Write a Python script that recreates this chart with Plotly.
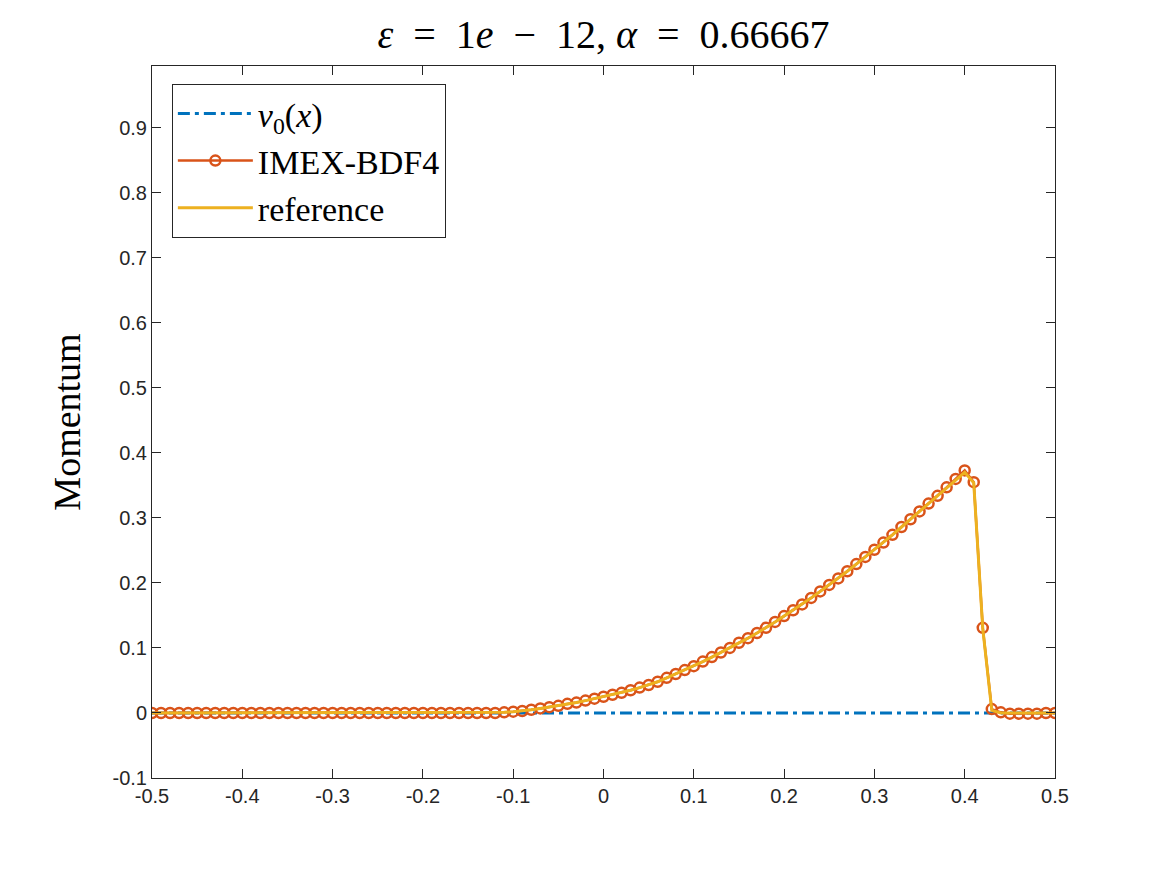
import numpy as np
import plotly.graph_objects as go

# grid
x_vals = [round(-0.5 + 0.01 * i, 2) for i in range(101)]

# IMEX-BDF4 momentum, x = -0.50 ... 0.50 step 0.01
imex_y = [0.0] * 38 + [
    0.000, 0.001, 0.002, 0.003, 0.005, 0.007, 0.009, 0.011, 0.014, 0.016,  # -0.12 .. -0.03
    0.019, 0.022, 0.025, 0.028, 0.031, 0.035, 0.039, 0.043, 0.048, 0.054,  # -0.02 .. 0.07
    0.060, 0.066, 0.072, 0.079, 0.086, 0.093, 0.100, 0.108, 0.115, 0.123,  # 0.08 .. 0.17
    0.131, 0.140, 0.149, 0.158, 0.167, 0.177, 0.187, 0.197, 0.207, 0.218,  # 0.18 .. 0.27
    0.229, 0.240, 0.251, 0.262, 0.274, 0.286, 0.298, 0.310, 0.322, 0.334,  # 0.28 .. 0.37
    0.347, 0.360, 0.373, 0.355, 0.131, 0.006, 0.001, -0.001, -0.001, -0.001,  # 0.38 .. 0.47
    -0.001, 0.000, 0.000,  # 0.48 .. 0.50
]

# reference solution
ref_y = [0.0] * 38 + [
    0.000, 0.001, 0.002, 0.003, 0.005, 0.007, 0.009, 0.011, 0.014, 0.016,
    0.019, 0.022, 0.025, 0.028, 0.031, 0.035, 0.039, 0.043, 0.048, 0.054,
    0.060, 0.066, 0.072, 0.079, 0.086, 0.093, 0.100, 0.108, 0.115, 0.123,
    0.131, 0.140, 0.149, 0.158, 0.167, 0.177, 0.187, 0.197, 0.207, 0.218,
    0.229, 0.240, 0.251, 0.262, 0.274, 0.286, 0.298, 0.310, 0.322, 0.334,
    0.347, 0.359, 0.370, 0.354, 0.130, 0.004, 0.000, 0.000, 0.000, 0.000,
    0.000, 0.000, 0.000,
]

# initial momentum v0(x)
v0_y = [0.0] * 101

x_ticks = [-0.5, -0.4, -0.3, -0.2, -0.1, 0, 0.1, 0.2, 0.3, 0.4, 0.5]
x_tick_text = ["-0.5", "-0.4", "-0.3", "-0.2", "-0.1", "0", "0.1", "0.2", "0.3", "0.4", "0.5"]
y_ticks = [-0.1, 0, 0.1, 0.2, 0.3, 0.4, 0.5, 0.6, 0.7, 0.8, 0.9]
y_tick_text = ["-0.1", "0", "0.1", "0.2", "0.3", "0.4", "0.5", "0.6", "0.7", "0.8", "0.9"]

BLUE = "#0072BD"
ORANGE = "#D95319"
YELLOW = "#EDB120"
AX = "#262626"
SERIF = "Liberation Serif, DejaVu Serif, serif"
SANS = "Liberation Sans, Arial, Helvetica, sans-serif"
SP = "\u2002"

fig = go.Figure()
fig.add_trace(go.Scatter(
    x=x_vals, y=v0_y, mode="lines", name="<i>v</i><sub>0</sub>(<i>x</i>)",
    line=dict(color=BLUE, width=3, dash="12px,5px,4px,5px"),
))
fig.add_trace(go.Scatter(
    x=x_vals, y=imex_y, mode="lines+markers", name="IMEX-BDF4",
    line=dict(color=ORANGE, width=2.5),
    marker=dict(symbol="circle-open", size=10, color=ORANGE, line=dict(color=ORANGE, width=2.5)),
))
fig.add_trace(go.Scatter(
    x=x_vals, y=ref_y, mode="lines", name="reference",
    line=dict(color=YELLOW, width=3),
))

fig.update_layout(
    width=1167, height=875,
    margin=dict(l=152, r=112, t=66, b=97),
    paper_bgcolor="white", plot_bgcolor="white",
    title=dict(
        text=f"<i>ε</i>{SP}={SP}1<i>e</i>{SP}−{SP}12, <i>α</i>{SP}={SP}0.66667",
        x=(152 + 1055) / 2 / 1167, xanchor="center",
        y=1 - 34 / 875, yanchor="middle",
        font=dict(family=SERIF, size=40, color="black"),
    ),
    showlegend=True,
    legend=dict(
        x=0.022, y=0.975, xanchor="left", yanchor="top",
        bgcolor="white", bordercolor=AX, borderwidth=1,
        font=dict(family=SERIF, size=34, color="black"),
        itemwidth=75, tracegroupgap=0,
    ),
)
fig.update_xaxes(
    range=[-0.5, 0.5], tickvals=x_ticks, ticktext=x_tick_text,
    ticks="inside", ticklen=9, tickwidth=1, tickcolor=AX,
    showline=True, linecolor=AX, linewidth=1, mirror="ticks",
    showgrid=False, zeroline=False,
    tickfont=dict(family=SANS, size=20, color=AX),
)
fig.update_yaxes(
    range=[-0.1, 0.995], tickvals=y_ticks, ticktext=y_tick_text,
    ticks="inside", ticklen=9, tickwidth=1, tickcolor=AX,
    showline=True, linecolor=AX, linewidth=1, mirror="ticks",
    showgrid=False, zeroline=False,
    tickfont=dict(family=SANS, size=20, color=AX),
    title=dict(text="Momentum", font=dict(family=SERIF, size=38, color="black"), standoff=20),
)

fig.write_html("out.html")
